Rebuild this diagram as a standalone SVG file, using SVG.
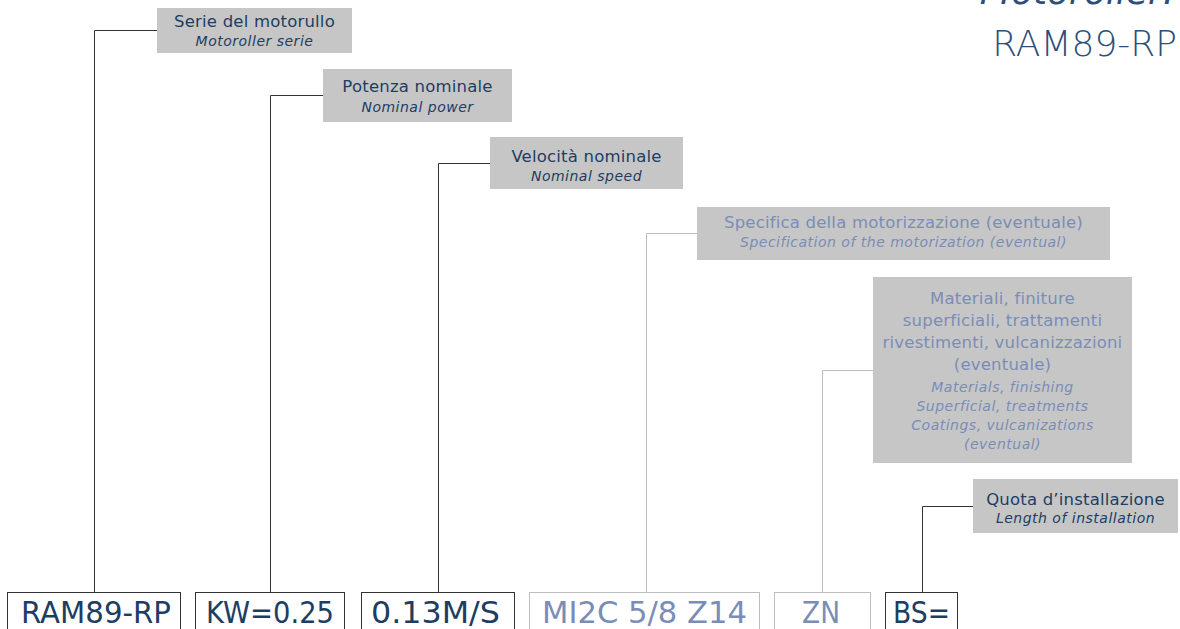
<svg xmlns="http://www.w3.org/2000/svg" width="1180" height="629" viewBox="0 0 1180 629">
<style>
.lbl{fill:#c6c6c6}
.t{font-family:"DejaVu Sans","Liberation Sans",sans-serif;text-anchor:middle}
.h{font-size:16.5px;letter-spacing:0.2px}
.s{font-size:14px;font-style:italic;letter-spacing:0.5px}
.dk{fill:#1d3d63}
.lt{fill:#7a8db6}
.ln{fill:none;stroke:#333;stroke-width:1}
.lnl{fill:none;stroke:#bdbdbd;stroke-width:1}
.box{fill:#fff;stroke:#333;stroke-width:1}
.boxl{fill:#fff;stroke:#bdbdbd;stroke-width:1}
.big{font-family:"DejaVu Sans","Liberation Sans",sans-serif;font-size:31px;font-weight:normal;text-anchor:middle}
.ttl{font-family:"DejaVu Sans","Liberation Sans",sans-serif;font-size:36px;font-weight:200;text-anchor:end;fill:#2b4f7a}
</style>
<g id="title">
<text class="ttl" x="1175" y="4" font-style="italic">Motoroller:</text>
<text class="ttl" x="1177" y="56">RAM89-RP</text>
</g>
<g id="connectors">
<polyline class="ln" points="157,30.5 94.5,30.5 94.5,592"/>
<polyline class="ln" points="323,95.5 270.5,95.5 270.5,592"/>
<polyline class="ln" points="490,163.5 438.5,163.5 438.5,592"/>
<polyline class="lnl" points="697,233.5 646.5,233.5 646.5,592"/>
<polyline class="lnl" points="873,370.5 822.5,370.5 822.5,592"/>
<polyline class="ln" points="973,506.5 922.5,506.5 922.5,592"/>
</g>
<g id="n-serie">
<rect class="lbl" x="157" y="8" width="195" height="45"/>
<text class="t h dk" x="254.5" y="27">Serie del motorullo</text>
<text class="t s dk" x="254.5" y="46">Motoroller serie</text>
</g>
<g id="n-potenza">
<rect class="lbl" x="323" y="69" width="189" height="53"/>
<text class="t h dk" x="417.5" y="92">Potenza nominale</text>
<text class="t s dk" x="417.5" y="112">Nominal power</text>
</g>
<g id="n-velocita">
<rect class="lbl" x="490" y="137" width="193" height="52"/>
<text class="t h dk" x="586.5" y="162">Velocità nominale</text>
<text class="t s dk" x="586.5" y="181">Nominal speed</text>
</g>
<g id="n-specifica">
<rect class="lbl" x="697" y="207" width="413" height="53"/>
<text class="t h lt" x="903.5" y="228">Specifica della motorizzazione (eventuale)</text>
<text class="t s lt" x="903.5" y="247">Specification of the motorization (eventual)</text>
</g>
<g id="n-materiali">
<rect class="lbl" x="873" y="277" width="259" height="186"/>
<text class="t h lt" x="1002.5" y="304">Materiali, finiture</text>
<text class="t h lt" x="1002.5" y="326">superficiali, trattamenti</text>
<text class="t h lt" x="1002.5" y="348">rivestimenti, vulcanizzazioni</text>
<text class="t h lt" x="1002.5" y="370">(eventuale)</text>
<text class="t s lt" x="1002.5" y="392">Materials, finishing</text>
<text class="t s lt" x="1002.5" y="411">Superficial, treatments</text>
<text class="t s lt" x="1002.5" y="430">Coatings, vulcanizations</text>
<text class="t s lt" x="1002.5" y="449">(eventual)</text>
</g>
<g id="n-quota">
<rect class="lbl" x="973" y="479" width="205" height="54"/>
<text class="t h dk" x="1075.5" y="505">Quota d’installazione</text>
<text class="t s dk" x="1075.5" y="523">Length of installation</text>
</g>
<g id="b-ram">
<rect class="box" x="7.5" y="592.5" width="173" height="50"/>
<text class="big dk" x="96" y="623" textLength="150" lengthAdjust="spacingAndGlyphs">RAM89-RP</text>
</g>
<g id="b-kw">
<rect class="box" x="195.5" y="592.5" width="149" height="50"/>
<text class="big dk" x="270" y="623" textLength="128" lengthAdjust="spacingAndGlyphs">KW=0.25</text>
</g>
<g id="b-speed">
<rect class="box" x="361.5" y="592.5" width="153" height="50"/>
<text class="big dk" x="435.5" y="623" textLength="129" lengthAdjust="spacingAndGlyphs">0.13M/S</text>
</g>
<g id="b-mi2c">
<rect class="boxl" x="529.5" y="592.5" width="230" height="50"/>
<text class="big lt" x="644.5" y="623" textLength="205" lengthAdjust="spacingAndGlyphs">MI2C 5/8 Z14</text>
</g>
<g id="b-zn">
<rect class="boxl" x="774.5" y="592.5" width="96" height="50"/>
<text class="big lt" x="821" y="623" textLength="38" lengthAdjust="spacingAndGlyphs">ZN</text>
</g>
<g id="b-bs">
<rect class="box" x="885.5" y="592.5" width="72" height="50"/>
<text class="big dk" x="921.5" y="623" textLength="57" lengthAdjust="spacingAndGlyphs">BS=</text>
</g>
</svg>
